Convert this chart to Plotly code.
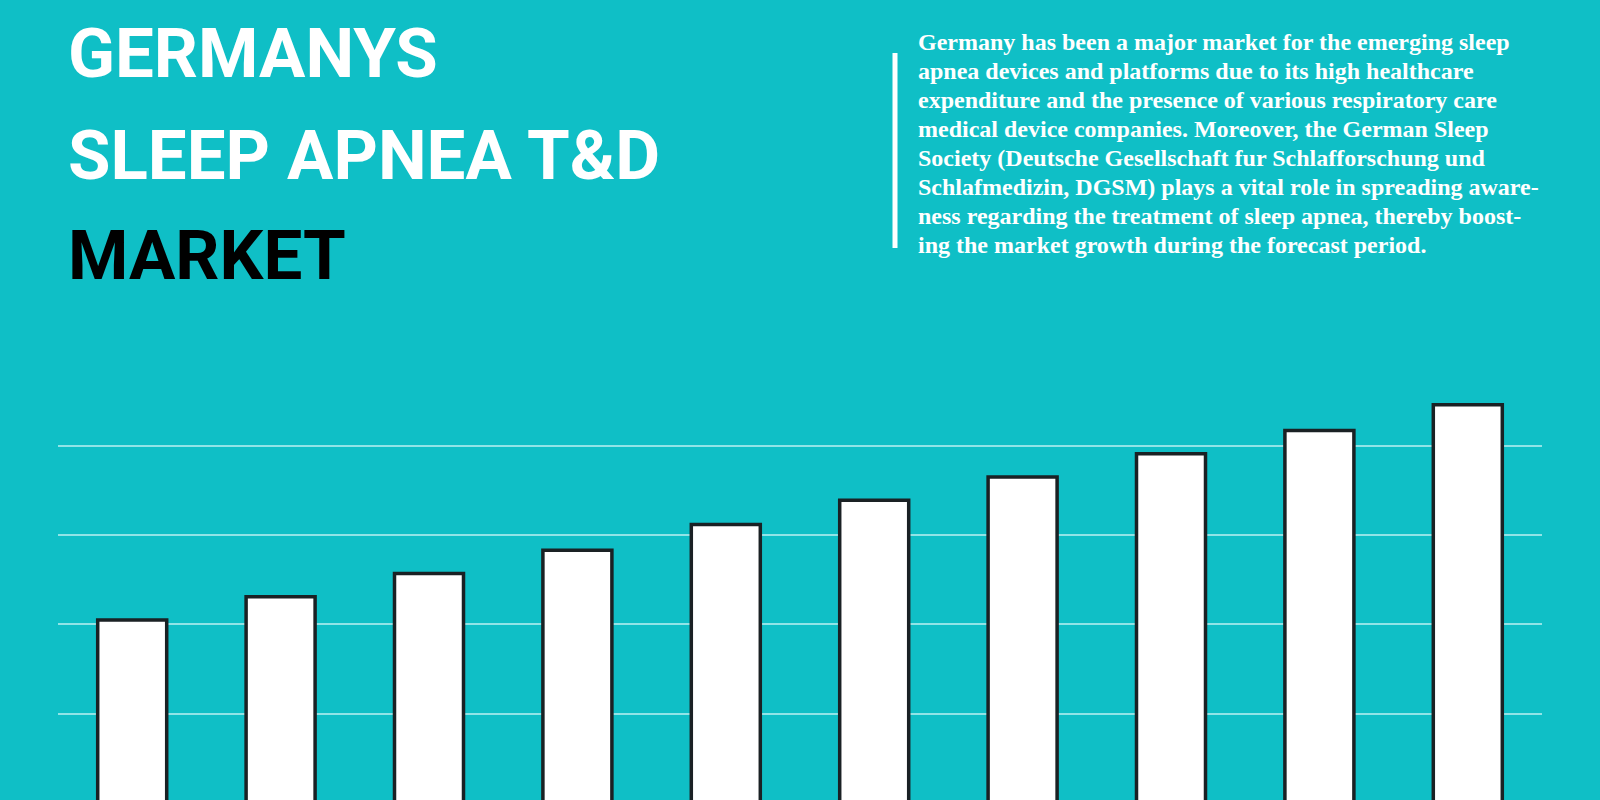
import plotly.graph_objects as go

# Données du graphique (échelle arbitraire)
years = ["2019", "2020", "2021", "2022", "2023", "2024", "2025", "2026", "2027", "2028"]
market_size = [2.05, 2.31, 2.57, 2.83, 3.12, 3.39, 3.65, 3.91, 4.17, 4.46]
grid_ticks = [1, 2, 3, 4]

title_lines = ["GERMANYS", "SLEEP APNEA T&D", "MARKET"]
title_colors = ["white", "white", "black"]

paragraph_lines = [
    "Germany has been a major market for the emerging sleep",
    "apnea devices and platforms due to its high healthcare",
    "expenditure and the presence of various respiratory care",
    "medical device companies. Moreover, the German Sleep",
    "Society (Deutsche Gesellschaft fur Schlafforschung und",
    "Schlafmedizin, DGSM) plays a vital role in spreading aware-",
    "ness regarding the treatment of sleep apnea, thereby boost-",
    "ing the market growth during the forecast period.",
]

BG = "#0fbfc6"
W, H = 1600, 800
ML, MR, MT, MB = 58, 58, 380, 0


# conversion pixels -> coordonnées "paper" (relatives à la zone de tracé)
def px_x(px):
    return (px - ML) / (W - ML - MR)


def px_y(py):
    return (H - MB - py) / (H - MT - MB)


fig = go.Figure()

fig.add_trace(go.Bar(
    x=list(range(len(years))),
    y=market_size,
    width=0.465,
    marker=dict(color="white", line=dict(color="#1a2124", width=3.5)),
    hoverinfo="skip",
))

# Titre (3 lignes)
title_y = [53, 156, 256]
for txt, col, ypx in zip(title_lines, title_colors, title_y):
    fig.add_annotation(
        text=f"<b>{txt}</b>", x=px_x(66), y=px_y(ypx), xref="paper", yref="paper",
        xanchor="left", yanchor="middle", showarrow=False,
        font=dict(family="Roboto", size=69, color=col, weight=900),
    )

# Paragraphe de droite
for i, line in enumerate(paragraph_lines):
    ypx = 42 + i * 29.0
    fig.add_annotation(
        text=f"<b>{line}</b>", x=px_x(916), y=px_y(ypx), xref="paper", yref="paper",
        xanchor="left", yanchor="middle", showarrow=False,
        font=dict(family="Liberation Serif, Times New Roman, serif", size=24, color="white"),
    )

# Barre verticale à gauche du paragraphe
fig.add_shape(type="line", xref="paper", yref="paper",
              x0=px_x(895), x1=px_x(895), y0=px_y(53), y1=px_y(248),
              line=dict(color="white", width=5))

px_per_unit = 89.3
base_px = 803
fig.update_layout(
    width=W, height=H,
    paper_bgcolor=BG, plot_bgcolor=BG,
    margin=dict(l=ML, r=MR, t=MT, b=MB, pad=0),
    showlegend=False,
    xaxis=dict(range=[-0.5, len(years) - 0.5], showticklabels=False, showgrid=False,
               zeroline=False, showline=False, ticks=""),
    yaxis=dict(range=[(base_px - H) / px_per_unit, (base_px - MT) / px_per_unit],
               tickvals=grid_ticks, showticklabels=False, showgrid=True,
               gridcolor="rgba(190,240,242,0.75)", gridwidth=1.5,
               zeroline=False, showline=False, ticks=""),
)

fig.write_html("out.html", config={"displayModeBar": False},
               post_script="document.body.style.margin='0';document.body.style.background='%s';" % BG)
